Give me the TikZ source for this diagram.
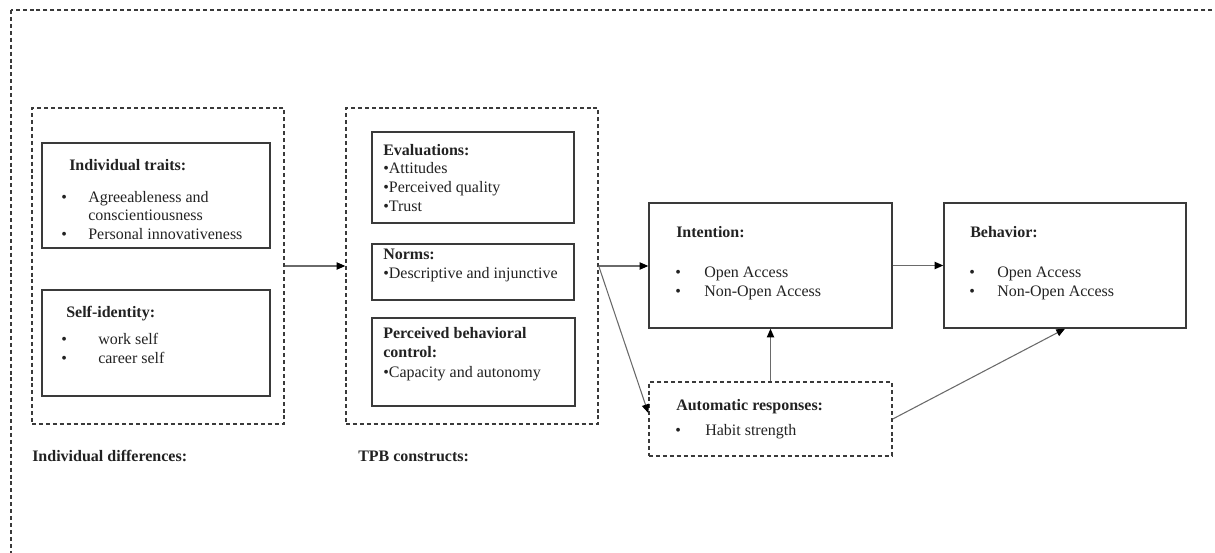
\documentclass[tikz,border=0pt]{standalone}
\usepackage{fontspec}
\setmainfont{Liberation Serif}
\usetikzlibrary{arrows.meta,fit,calc}
\definecolor{textc}{HTML}{222222}
\definecolor{boxc}{HTML}{3A3A3A}
\definecolor{arrc}{HTML}{6A6A6A}
\begin{document}
\begin{tikzpicture}[x=0.75pt,y=-0.75pt,
  box/.style={draw=boxc, line width=1.1pt, inner sep=0pt, rectangle},
  dbox/.style={box, dash pattern=on 3pt off 2.2pt},
  txt/.style={anchor=base west, inner sep=0pt, font=\fontsize{12}{14}\selectfont, text=textc},
  btxt/.style={txt, font=\fontsize{12}{14}\selectfont\bfseries},
  arr/.style={draw=arrc, line width=0.8pt, -{Triangle[length=6.5pt,width=5.5pt,fill=black,color=black]}}]
\useasboundingbox (0,0) rectangle (1215,553);
\clip (0,0) rectangle (1215,553);
% outer dashed frame (extends beyond the picture)
\draw[draw=boxc, line width=1.1pt, dash pattern=on 3pt off 2.2pt] (11,10) rectangle (1260,620);

% groups
\node[dbox, fit={(32,108) (284,424)}] (lgrp) {};
\node[dbox, fit={(346,108) (598,424)}] (mgrp) {};

% boxes
\node[box, fit={(42,143) (270,248)}] (traits) {};
\node[box, fit={(42,290) (270,396)}] (self) {};
\node[box, fit={(372,132) (574,223)}] (eval) {};
\node[box, fit={(372,244) (574,300)}] (norms) {};
\node[box, fit={(372,318) (575,406)}] (pbc) {};
\node[box, fit={(649,203) (892,328)}] (intent) {};
\node[box, fit={(944,203) (1186,328)}] (behav) {};
\node[dbox, fit={(649,382) (892,456)}] (auto) {};

% texts: individual traits
\node[btxt] (tt) at (69,170) {Individual traits:};
\node[txt] (t1) at (61,202) {\makebox[20.25pt][l]{•}Agreeableness and};
\node[txt] (t2) at (88,220) {conscientiousness};
\node[txt] (t3) at (61,239) {\makebox[20.25pt][l]{•}Personal innovativeness};
% self-identity
\node[btxt] (st) at (66,317) {Self-identity:};
\node[txt] (s1) at (61,344) {\makebox[27.75pt][l]{•}work self};
\node[txt] (s2) at (61,363) {\makebox[27.75pt][l]{•}career self};
% evaluations
\node[btxt] (et) at (383,155) {Evaluations:};
\node[txt] (e1) at (383,173) {•Attitudes};
\node[txt] (e2) at (383,192) {•Perceived quality};
\node[txt] (e3) at (383,211) {•Trust};
% norms
\node[btxt] (nt) at (383,259) {Norms:};
\node[txt] (n1) at (383,278) {•Descriptive and injunctive};
% pbc
\node[btxt] (pt1) at (383,338) {Perceived behavioral};
\node[btxt] (pt2) at (383,357) {control:};
\node[txt] (p1) at (383,377) {•Capacity and autonomy};
% intention
\node[btxt] (it) at (676,237) {Intention:};
\node[txt] (i1) at (675,277) {\makebox[21.75pt][l]{•}Open Access};
\node[txt] (i2) at (675,296) {\makebox[21.75pt][l]{•}Non-Open Access};
% behavior
\node[btxt] (bt) at (970,237) {Behavior:};
\node[txt] (b1) at (969,277) {\makebox[21pt][l]{•}Open Access};
\node[txt] (b2) at (969,296) {\makebox[21pt][l]{•}Non-Open Access};
% automatic
\node[btxt] (at) at (676,410) {Automatic responses:};
\node[txt] (a1) at (675,435) {\makebox[22.5pt][l]{•}Habit strength};
% labels
\node[btxt] (ld) at (32,461) {Individual differences:};
\node[btxt] (lt) at (358,461) {TPB constructs:};

% arrows
\draw[arr] (lgrp.east) -- (lgrp.east -| mgrp.west);
\draw[arr] (mgrp.east) -- (mgrp.east -| intent.west);
\draw[arr] (mgrp.east) -- ($(auto.west)+(0,-6)$);
\draw[arr] (intent.east) -- (behav.west);
\draw[arr] (auto.north) -- (intent.south);
\draw[arr] (auto.east) -- (behav.south);
\end{tikzpicture}
\end{document}
